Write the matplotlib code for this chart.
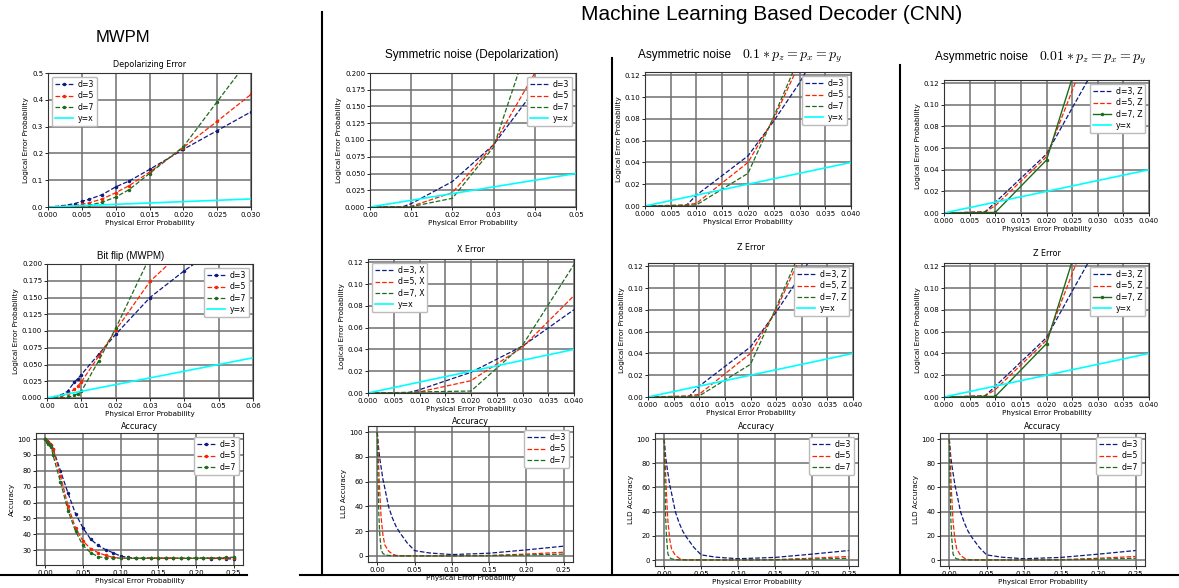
import matplotlib
matplotlib.use("Agg")
import matplotlib.pyplot as plt
from matplotlib.lines import Line2D
from matplotlib.ticker import MultipleLocator, FormatStrFormatter

# ---------------- data ----------------
# MWPM, depolarizing error
dep_p = [0.0, 0.002, 0.004, 0.005, 0.006, 0.008, 0.010, 0.012, 0.015, 0.020, 0.025, 0.030]
dep_d3 = [0.0, 0.004, 0.013, 0.021, 0.028, 0.046, 0.075, 0.097, 0.140, 0.215, 0.285, 0.355]
dep_d5 = [0.0, 0.001, 0.005, 0.011, 0.015, 0.030, 0.053, 0.080, 0.130, 0.222, 0.320, 0.420]
dep_d7 = [0.0, 0.000, 0.002, 0.004, 0.006, 0.018, 0.037, 0.065, 0.125, 0.225, 0.393, 0.560]

# MWPM, bit flip
bf_p = [0.0, 0.002, 0.004, 0.006, 0.008, 0.009, 0.010, 0.015, 0.020, 0.030, 0.040, 0.050]
bf_d3 = [0.0, 0.001, 0.004, 0.010, 0.024, 0.029, 0.035, 0.065, 0.095, 0.150, 0.190, 0.225]
bf_d5 = [0.0, 0.000, 0.002, 0.006, 0.013, 0.018, 0.024, 0.062, 0.101, 0.174, 0.222, 0.260]
bf_d7 = [0.0, 0.000, 0.000, 0.001, 0.004, 0.0065, 0.010, 0.055, 0.104, 0.211, 0.290, 0.350]

# MWPM, accuracy
acc_p = [0.0, 0.002, 0.004, 0.006, 0.008, 0.010, 0.02, 0.03, 0.04, 0.05, 0.06, 0.07, 0.08,
         0.09, 0.10, 0.11, 0.12, 0.13, 0.14, 0.15, 0.16, 0.17, 0.18, 0.19, 0.20, 0.21,
         0.22, 0.23, 0.24, 0.25]
acc_d3 = [100, 99, 98, 97, 96, 94, 80, 66, 53, 44, 37, 33, 30.4, 28.4, 26.3, 25.5, 25.1, 25,
          25.2, 24.9, 25, 25.1, 24.9, 25, 25, 25.1, 24.8, 24.9, 24.7, 24.5]
acc_d5 = [100, 99, 98, 97, 96, 94, 77, 58, 44, 35.8, 31, 28.5, 26.8, 25.5, 25, 25.2, 25, 24.9,
          25, 25.1, 25, 24.9, 25, 25.1, 25, 25, 25.2, 25, 25.3, 25.4]
acc_d7 = [100, 98, 97, 96, 95, 90, 73, 55, 42, 33, 28.5, 26, 25.2, 25, 25.1, 25, 24.9, 25, 25,
          24.9, 25.1, 25, 25, 24.9, 25, 25.1, 25, 25.3, 25.5, 25.6]

# CNN, symmetric noise
sym_p = [0.0, 0.008, 0.010, 0.020, 0.030, 0.040]
sym_d3 = [0.0, 0.0005, 0.005, 0.038, 0.093, 0.175]
sym_d5 = [0.0, 0.0003, 0.001, 0.0215, 0.093, 0.200]
sym_d7 = [0.0, 0.0002, 0.0005, 0.013, 0.0895, 0.274]

# CNN, X error
xe_p = [0.0, 0.008, 0.010, 0.020, 0.030, 0.040]
xe_d3 = [0.0, 0.0005, 0.003, 0.019, 0.043, 0.0765]
xe_d5 = [0.0, 0.0003, 0.001, 0.0113, 0.042, 0.0894]
xe_d7 = [0.0, 0.0005, 0.001, 0.0018, 0.0438, 0.118]

# CNN, asymmetric noise 0.1
a1_p = [0.0, 0.008, 0.010, 0.020, 0.025, 0.030, 0.035]
a1_d3 = [0.0, 0.0005, 0.010, 0.046, 0.078, 0.113, 0.155]
a1_d5 = [0.0, 0.001, 0.0025, 0.040, 0.080, 0.131, 0.180]
a1_d7 = [0.0, 0.0005, 0.001, 0.030, 0.082, 0.137, 0.190]

# CNN, asymmetric noise 0.01
a2_p = [0.0, 0.008, 0.010, 0.020, 0.025, 0.030]
a2_d3 = [0.0, 0.001, 0.0098, 0.0545, 0.097, 0.139]
a2_d5 = [0.0, 0.001, 0.0067, 0.052, 0.113, 0.174]
a2_d7 = [0.0, 0.0005, 0.0005, 0.049, 0.1245, 0.200]

# CNN, LLD accuracy
lld_p = [0.0, 0.001, 0.002, 0.003, 0.005, 0.0075, 0.01, 0.015, 0.02, 0.025, 0.03, 0.04,
         0.05, 0.07, 0.10, 0.15, 0.20, 0.25]
lld_d3 = [100, 92, 85, 80, 72, 62, 55, 40, 31, 24, 19, 10.6, 4.3, 2.4, 1.1, 2.2, 4.9, 7.9]
lld_d5 = [100, 85, 70, 55, 32, 17, 9, 4, 1.6, 0.5, 0.2, 0.1, 0.1, 0.1, 0.1, 0.4, 1.5, 3.0]
lld_d7 = [100, 60, 35, 20, 5, 2, 1, 0.4, 0.2, 0.1, 0.1, 0.1, 0.1, 0.1, 0.1, 0.2, 0.8, 1.5]

# ---------------- figure ----------------
plt.rcParams["mathtext.fontset"] = "cm"
W, H = 1179, 588
fig = plt.figure(figsize=(W / 100, H / 100), dpi=100)

NAVY, RED, GREEN, CYAN = "#0d1a80", "#ff2200", "#1e6b1e", "#00ffff"
SANS = "Liberation Sans"


def add_ax(l, t, r, b):
    return fig.add_axes([l / W, 1 - b / H, (r - l) / W, (b - t) / H])


def style(ax, ylabel="Logical Error Probability"):
    ax.grid(True, color="#6f6f6f", lw=1.1)
    ax.set_axisbelow(True)
    ax.tick_params(labelsize=5, length=2, width=0.6, pad=1.5)
    ax.set_xlabel("Physical Error Probability", fontsize=5.2, labelpad=1.5)
    ax.set_ylabel(ylabel, fontsize=5.2, labelpad=2)
    for s in ax.spines.values():
        s.set_linewidth(0.8)
        s.set_color("#333333")


def legend(ax, loc):
    ax.legend(loc=loc, fontsize=5.6, labelspacing=0.3, handlelength=2.3, borderpad=0.4,
              handletextpad=0.6, framealpha=1, edgecolor="#bbbbbb", fancybox=True)


def fmt(ax, xs, xf, ys, yf):
    ax.xaxis.set_major_locator(MultipleLocator(xs))
    ax.xaxis.set_major_formatter(FormatStrFormatter(xf))
    ax.yaxis.set_major_locator(MultipleLocator(ys))
    ax.yaxis.set_major_formatter(FormatStrFormatter(yf))


def yx(ax, xmax):
    ax.plot([0, xmax], [0, xmax], color=CYAN, lw=1.2, label="y=x")


# ---- MWPM column ----
ax = add_ax(48, 73, 251, 207)
mk = dict(marker=".", ms=3, lw=0.9, ls="--")
ax.plot(dep_p, dep_d3, color=NAVY, label="d=3", **mk)
ax.plot(dep_p, dep_d5, color=RED, label="d=5", **mk)
ax.plot(dep_p, dep_d7, color=GREEN, label="d=7", **mk)
yx(ax, 0.03)
ax.set_xlim(0, 0.03)
ax.set_ylim(0, 0.5)
fmt(ax, 0.005, "%.3f", 0.1, "%.1f")
style(ax)
legend(ax, "upper left")
ax.set_title("Depolarizing Error", fontsize=5.8, pad=4)

ax = add_ax(47, 264, 253, 398)
ax.plot(bf_p, bf_d3, color=NAVY, label="d=3", **mk)
ax.plot(bf_p, bf_d5, color=RED, label="d=5", **mk)
ax.plot(bf_p, bf_d7, color=GREEN, label="d=7", **mk)
yx(ax, 0.06)
ax.set_xlim(0, 0.06)
ax.set_ylim(0, 0.2)
fmt(ax, 0.01, "%.2f", 0.025, "%.3f")
style(ax)
legend(ax, "upper right")
fig.text(131 / W, 1 - 256 / H, "Bit flip (MWPM)", ha="center", va="center",
         fontsize=7, family=SANS)

ax = add_ax(36, 433, 243, 565)
ax.plot(acc_p, acc_d3, color=NAVY, label="d=3", **mk)
ax.plot(acc_p, acc_d5, color=RED, label="d=5", **mk)
ax.plot(acc_p, acc_d7, color=GREEN, label="d=7", **mk)
ax.xaxis.set_major_locator(MultipleLocator(0.05))
ax.xaxis.set_major_formatter(FormatStrFormatter("%.2f"))
ax.yaxis.set_major_locator(MultipleLocator(10))
style(ax, "Accuracy")
legend(ax, "upper right")
ax.set_title("Accuracy", fontsize=5.8, pad=3)

# ---- CNN: symmetric noise ----
dl = dict(ls="--", lw=0.9)
ax = add_ax(370, 73, 576, 207)
ax.plot(sym_p, sym_d3, color=NAVY, label="d=3", **dl)
ax.plot(sym_p, sym_d5, color=RED, label="d=5", **dl)
ax.plot(sym_p, sym_d7, color=GREEN, label="d=7", **dl)
yx(ax, 0.05)
ax.set_xlim(0, 0.05)
ax.set_ylim(0, 0.2)
fmt(ax, 0.01, "%.2f", 0.025, "%.3f")
style(ax)
legend(ax, "upper right")

ax = add_ax(368, 259, 574, 393)
ax.plot(xe_p, xe_d3, color=NAVY, label="d=3, X", **dl)
ax.plot(xe_p, xe_d5, color=RED, label="d=5, X", **dl)
ax.plot(xe_p, xe_d7, color=GREEN, label="d=7, X", **dl)
yx(ax, 0.04)
ax.set_xlim(0, 0.04)
ax.set_ylim(0, 0.123)
fmt(ax, 0.005, "%.3f", 0.02, "%.2f")
style(ax)
legend(ax, "upper left")
ax.set_title("X Error", fontsize=5.8, pad=5)

# ---- CNN: asymmetric noise 0.1 ----
for (l, t, r, b, tag, ttl) in [(645, 72, 851, 206, "", None),
                               (648, 263, 853, 397, ", Z", "Z Error")]:
    ax = add_ax(l, t, r, b)
    ax.plot(a1_p, a1_d3, color=NAVY, label="d=3" + tag, **dl)
    ax.plot(a1_p, a1_d5, color=RED, label="d=5" + tag, **dl)
    ax.plot(a1_p, a1_d7, color=GREEN, label="d=7" + tag, **dl)
    yx(ax, 0.04)
    ax.set_xlim(0, 0.04)
    ax.set_ylim(0, 0.123)
    fmt(ax, 0.005, "%.3f", 0.02, "%.2f")
    style(ax)
    legend(ax, "upper right")
    if ttl:
        ax.set_title(ttl, fontsize=5.8, pad=9)

# ---- CNN: asymmetric noise 0.01 ----
for (t, b, ttl) in [(80, 213, None), (263, 397, "Z Error")]:
    ax = add_ax(944, t, 1149, b)
    ax.plot(a2_p, a2_d3, color=NAVY, label="d=3, Z", **dl)
    ax.plot(a2_p, a2_d5, color=RED, label="d=5, Z", **dl)
    ax.plot(a2_p, a2_d7, color=GREEN, label="d=7, Z", ls="-", lw=1.0, marker=".", ms=3)
    yx(ax, 0.04)
    ax.set_xlim(0, 0.04)
    ax.set_ylim(0, 0.123)
    fmt(ax, 0.005, "%.3f", 0.02, "%.2f")
    style(ax)
    legend(ax, "upper right")
    if ttl:
        ax.set_title(ttl, fontsize=5.8, pad=5)

# ---- CNN: LLD accuracy row ----
for (l, t, r, b, pad) in [(368, 426, 573, 562, 1), (655, 433, 858, 566, 3),
                          (940, 433, 1145, 566, 3)]:
    ax = add_ax(l, t, r, b)
    ax.plot(lld_p, lld_d3, color=NAVY, label="d=3", **dl)
    ax.plot(lld_p, lld_d5, color=RED, label="d=5", **dl)
    ax.plot(lld_p, lld_d7, color=GREEN, label="d=7", **dl)
    ax.xaxis.set_major_locator(MultipleLocator(0.05))
    ax.xaxis.set_major_formatter(FormatStrFormatter("%.2f"))
    ax.yaxis.set_major_locator(MultipleLocator(20))
    style(ax, "LLD Accuracy")
    legend(ax, "upper right")
    ax.set_title("Accuracy", fontsize=5.8, pad=pad)

# ---- headings ----
fig.text(123 / W, 1 - 37 / H, "MWPM", ha="center", va="center", fontsize=12, family=SANS)
fig.text(772 / W, 1 - 14 / H, "Machine Learning Based Decoder (CNN)", ha="center",
         va="center", fontsize=15, family=SANS)
fig.text(472 / W, 1 - 55 / H, "Symmetric noise (Depolarization)", ha="center",
         va="center", fontsize=8.5, family=SANS)
fig.text(685 / W, 1 - 55 / H, "Asymmetric noise", ha="center", va="center",
         fontsize=8.5, family=SANS)
fig.text(792 / W, 1 - 56 / H, r"$0.1 * p_z = p_x = p_y$", ha="center", va="center",
         fontsize=10)
fig.text(981 / W, 1 - 57 / H, "Asymmetric noise", ha="center", va="center",
         fontsize=8.5, family=SANS)
fig.text(1093 / W, 1 - 58 / H, r"$0.01 * p_z = p_x = p_y$", ha="center", va="center",
         fontsize=10)

# ---- separators ----
def seg(x0, y0, x1, y1, lw=1.5):
    fig.add_artist(Line2D([x0 / W, x1 / W], [1 - y0 / H, 1 - y1 / H],
                          transform=fig.transFigure, color="black", lw=lw))


seg(322, 12, 322, 575)
seg(612, 58, 612, 575)
seg(900, 65, 900, 575)
seg(0, 575, 247, 575)
seg(300, 575, W, 575)

fig.savefig("out.png", dpi=100, facecolor="white")
